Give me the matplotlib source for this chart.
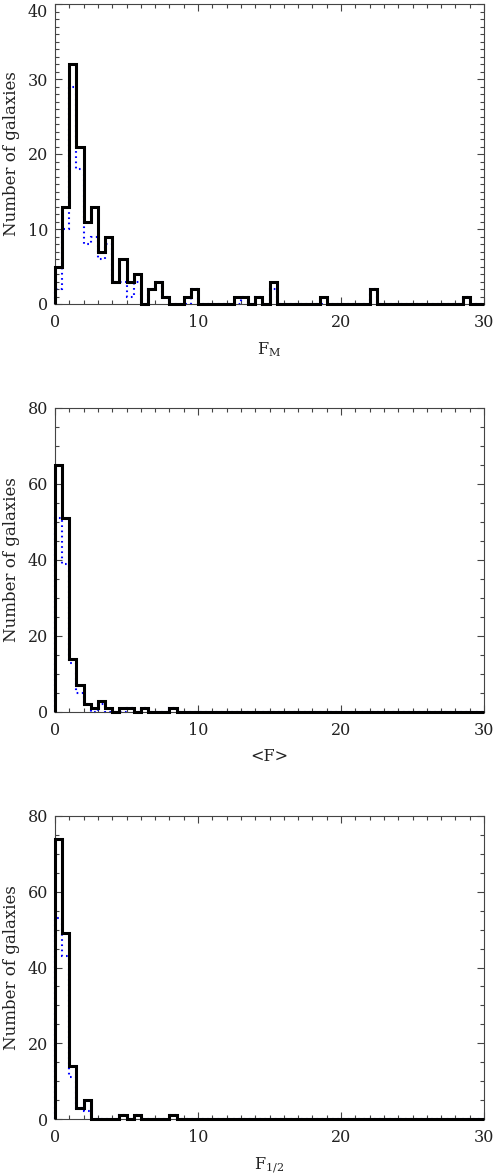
import numpy as np
import matplotlib
matplotlib.use("Agg")
import matplotlib.pyplot as plt
from matplotlib.ticker import MultipleLocator

# ---------------- data (counts per 0.5-wide bin, 0..30) ----------------
bin_width = 0.5
x_max = 30

fm_all = [5, 13, 32, 21, 11, 13, 7, 9, 3, 6,
          3, 4, 0, 2, 3, 1, 0, 0, 1, 2,
          0, 0, 0, 0, 0, 1, 1, 0, 1, 0,
          3, 0, 0, 0, 0, 0, 0, 1, 0, 0,
          0, 0, 0, 0, 2, 0, 0, 0, 0, 0,
          0, 0, 0, 0, 0, 0, 0, 1, 0, 0]
fm_sub = [2, 10, 29, 18, 8, 9, 6, 8, 3, 3,
          1, 3, 0, 2, 3, 1, 0, 0, 0, 2,
          0, 0, 0, 0, 0, 0, 1, 0, 1, 0,
          2, 0, 0, 0, 0, 0, 0, 0, 0, 0,
          0, 0, 0, 0, 2, 0, 0, 0, 0, 0,
          0, 0, 0, 0, 0, 0, 0, 1, 0, 0]

fmean_all = [65, 51, 14, 7, 2, 1, 3, 1, 0, 1,
             1, 0, 1, 0, 0, 0, 1, 0, 0, 0,
             0, 0, 0, 0, 0, 0, 0, 0, 0, 0,
             0, 0, 0, 0, 0, 0, 0, 0, 0, 0,
             0, 0, 0, 0, 0, 0, 0, 0, 0, 0,
             0, 0, 0, 0, 0, 0, 0, 0, 0, 0]
fmean_sub = [51, 39, 13, 5, 2, 0, 2, 0, 0, 0,
             1, 0, 1, 0, 0, 0, 1, 0, 0, 0,
             0, 0, 0, 0, 0, 0, 0, 0, 0, 0,
             0, 0, 0, 0, 0, 0, 0, 0, 0, 0,
             0, 0, 0, 0, 0, 0, 0, 0, 0, 0,
             0, 0, 0, 0, 0, 0, 0, 0, 0, 0]

fhalf_all = [74, 49, 14, 3, 5, 0, 0, 0, 0, 1,
             0, 1, 0, 0, 0, 0, 1, 0, 0, 0,
             0, 0, 0, 0, 0, 0, 0, 0, 0, 0,
             0, 0, 0, 0, 0, 0, 0, 0, 0, 0,
             0, 0, 0, 0, 0, 0, 0, 0, 0, 0,
             0, 0, 0, 0, 0, 0, 0, 0, 0, 0]
fhalf_sub = [53, 43, 11, 3, 2, 0, 0, 0, 0, 1,
             0, 1, 0, 0, 0, 0, 1, 0, 0, 0,
             0, 0, 0, 0, 0, 0, 0, 0, 0, 0,
             0, 0, 0, 0, 0, 0, 0, 0, 0, 0,
             0, 0, 0, 0, 0, 0, 0, 0, 0, 0,
             0, 0, 0, 0, 0, 0, 0, 0, 0, 0]

xlabels = [r"F$_{\rm M}$", r"<F>", r"F$_{1/2}$"]
ylabel = "Number of galaxies"
ymaxes = [40, 80, 80]
ymajor = [10, 20, 20]
yminor = [1, 5, 5]

# ---------------- figure ----------------
W, H = 494, 1174
fig = plt.figure(figsize=(W / 100, H / 100), dpi=100)
plt.rcParams['font.family'] = ['DejaVu Serif']
plt.rcParams['mathtext.fontset'] = 'dejavuserif'

left, right = 55, 484
panels_px = [(4, 304), (408, 712), (816, 1119)]

edges = np.arange(0, x_max + bin_width / 2, bin_width)
series = [(fm_all, fm_sub), (fmean_all, fmean_sub), (fhalf_all, fhalf_sub)]

tc = '#444444'
txtc = '#222222'
axes = []
for i, ((top, bot), (allv, subv)) in enumerate(zip(panels_px, series)):
    ax = fig.add_axes([left / W, 1 - bot / H, (right - left) / W, (bot - top) / H])
    axes.append(ax)
    ax.stairs(subv, edges, baseline=0, color='#0000ff', lw=1.5,
              linestyle=(0, (0.8, 1.7)), zorder=2, clip_on=False)
    ax.stairs(allv, edges, baseline=0, color='black', lw=2.2,
              zorder=3, clip_on=False)
    ax.set_xlim(0, x_max)
    ax.set_ylim(0, ymaxes[i])
    ax.xaxis.set_major_locator(MultipleLocator(10))
    ax.xaxis.set_minor_locator(MultipleLocator(1))
    ax.yaxis.set_major_locator(MultipleLocator(ymajor[i]))
    ax.yaxis.set_minor_locator(MultipleLocator(yminor[i]))
    ax.tick_params(which='both', direction='in', top=True, right=True,
                   color=tc, width=0.8, labelsize=11.5, labelcolor=txtc)
    ax.tick_params(which='major', length=5)
    ax.tick_params(which='minor', length=2.7)
    ax.tick_params(axis='x', pad=7)
    ax.tick_params(axis='y', pad=5)
    for s in ax.spines.values():
        s.set_color(tc)
        s.set_linewidth(0.8)
    ax.set_xlabel(xlabels[i], fontsize=11.5, color=txtc, labelpad=7)
    fig.text(12 / W, 1 - (top + bot) / 2 / H, ylabel, rotation=90,
             ha='center', va='center', fontsize=12, color=txtc)

# keep the top tick label of the first panel inside the figure
fig.canvas.draw()
major_ticks = axes[0].yaxis.get_major_ticks()
for t in major_ticks:
    if abs(t.get_loc() - ymaxes[0]) < 1e-9:
        t.label1.set_verticalalignment('top')

fig.savefig("out.png", dpi=100)
